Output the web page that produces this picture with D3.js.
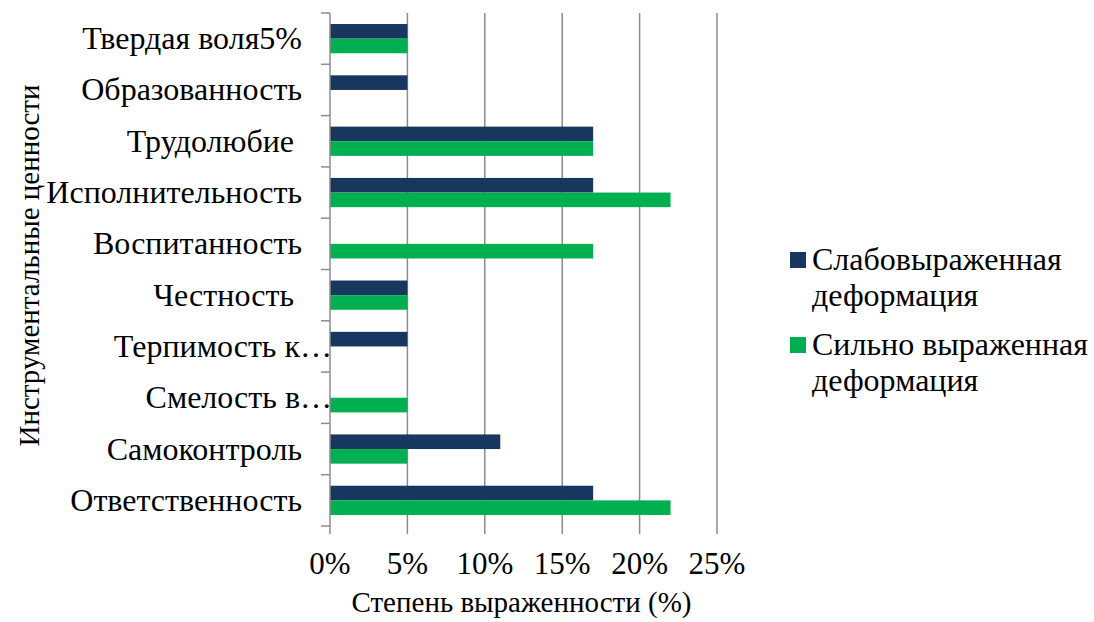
<!DOCTYPE html>
<html>
<head>
<meta charset="utf-8">
<script src="https://cdn.jsdelivr.net/npm/d3@7"></script>
<style>
  html, body { margin: 0; padding: 0; background: #fff; }
  svg { display: block; }
  svg text { font-family: "Liberation Serif", "Times New Roman", serif; fill: #000; }
</style>
</head>
<body>
<svg id="chart" width="1094" height="622"></svg>
<script>
// Instrumental values, top to bottom
const categories = [
  "Твердая воля5%",
  "Образованность",
  "Трудолюбие ",
  "Исполнительность",
  "Воспитанность",
  "Честность ",
  "Терпимость к…",
  "Смелость в…",
  "Самоконтроль",
  "Ответственность"
];
const seriesNames = ["Слабовыраженная деформация", "Сильно выраженная деформация"];
const weakValues   = [5, 5, 17, 17, 0, 5, 5, 0, 11, 17];
const strongValues = [5, 0, 17, 22, 17, 5, 0, 5, 5, 22];
const xTicks = [0, 5, 10, 15, 20, 25];
const colors = ["#17375E", "#00B050"];

const svg = d3.select("#chart");
const plot = { left: 330, right: 717, top: 13, bottom: 526 };

const x = d3.scaleLinear().domain([0, 25]).range([plot.left, plot.right]);
const y = d3.scaleBand().domain(categories).range([plot.top, plot.bottom]).paddingInner(0.43).paddingOuter(0.215);
const ySub = d3.scaleBand().domain([0, 1]).range([0, y.bandwidth()]);

// vertical gridlines
svg.append("g").selectAll("line").data(xTicks.slice(1)).join("line")
  .attr("x1", d => x(d)).attr("x2", d => x(d))
  .attr("y1", plot.top).attr("y2", plot.bottom)
  .attr("stroke", "#8c8c8c").attr("stroke-width", 1.5);

// bars
const rows = categories.map((c, i) => ({ c, v: [weakValues[i], strongValues[i]] }));
const g = svg.append("g");
rows.forEach(r => {
  r.v.forEach((v, s) => {
    if (v <= 0) return;
    g.append("rect")
      .attr("x", x(0))
      .attr("y", y(r.c) + ySub(s))
      .attr("width", x(v) - x(0))
      .attr("height", ySub.bandwidth())
      .attr("fill", colors[s]);
  });
});

// category axis line with ticks at band boundaries
const boundaries = d3.range(categories.length + 1).map(i => plot.top + i * (plot.bottom - plot.top) / categories.length);
svg.append("line")
  .attr("x1", plot.left).attr("x2", plot.left)
  .attr("y1", plot.top).attr("y2", plot.bottom)
  .attr("stroke", "#8c8c8c").attr("stroke-width", 1.5);
svg.append("g").selectAll("line").data(boundaries).join("line")
  .attr("x1", plot.left - 9).attr("x2", plot.left)
  .attr("y1", d => d).attr("y2", d => d)
  .attr("stroke", "#8c8c8c").attr("stroke-width", 1.5);

// value axis ticks
svg.append("g").selectAll("line").data(xTicks).join("line")
  .attr("x1", d => x(d)).attr("x2", d => x(d))
  .attr("y1", plot.bottom).attr("y2", plot.bottom + 8)
  .attr("stroke", "#8c8c8c").attr("stroke-width", 1.5);
svg.append("g").selectAll("text").data(xTicks).join("text")
  .attr("x", d => x(d)).attr("y", 574)
  .attr("text-anchor", "middle")
  .attr("font-size", 31)
  .text(d => d + "%");

// category labels
svg.append("g").selectAll("text").data(categories).join("text")
  .attr("x", d => d.endsWith("…") ? plot.left + 2 : plot.left - 28)
  .attr("y", d => y(d) + y.bandwidth() / 2 + 10.5)
  .attr("text-anchor", "end")
  .attr("font-size", 32)
  .style("white-space", "pre")
  .text(d => d);

// axis titles
svg.append("text")
  .attr("x", (plot.left + plot.right) / 2 - 2).attr("y", 612)
  .attr("text-anchor", "middle").attr("font-size", 29)
  .text("Степень выраженности (%)");
svg.append("text")
  .attr("transform", `translate(39,${(plot.top + plot.bottom) / 2 - 4}) rotate(-90)`)
  .attr("text-anchor", "middle").attr("font-size", 29)
  .text("Инструментальные ценности");

// legend
const legend = [
  { lines: ["Слабовыраженная", "деформация"], color: colors[0], y: 252 },
  { lines: ["Сильно выраженная", "деформация"], color: colors[1], y: 337 }
];
legend.forEach(item => {
  svg.append("rect").attr("x", 790).attr("y", item.y).attr("width", 16).attr("height", 16).attr("fill", item.color);
  item.lines.forEach((ln, i) => {
    svg.append("text").attr("x", 812).attr("y", item.y + 18 + i * 36)
      .attr("font-size", 32).text(ln);
  });
});
</script>
</body>
</html>
